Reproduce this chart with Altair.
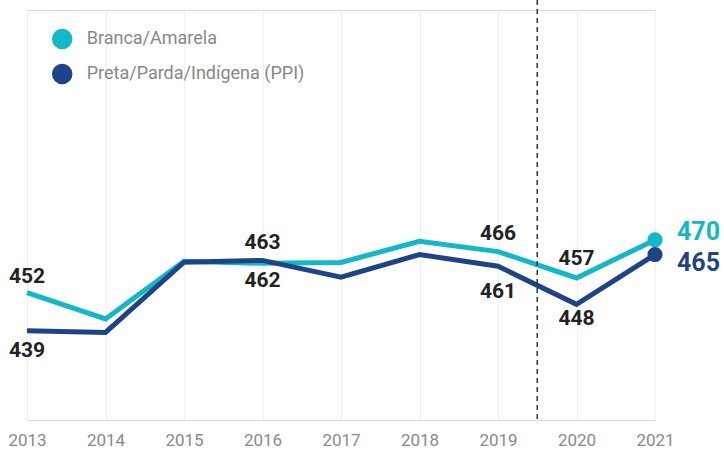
import altair as alt
import pandas as pd

years = [2013, 2014, 2015, 2016, 2017, 2018, 2019, 2020, 2021]
branca = [452, 443, 462.7, 462, 462.3, 469.5, 466, 457, 470]
ppi = [439, 438.4, 462.4, 463, 457.3, 465, 461, 448, 465]
series_names = ["Branca/Amarela", "Preta/Parda/Indígena (PPI)"]
series_colors = ["#12b7c8", "#1f4486"]
break_year = [2019.5]

rows = []
for name, vals in zip(series_names, [branca, ppi]):
    for y, v in zip(years, vals):
        rows.append({"year": y, "value": v, "series": name, "label": str(int(round(v)))})
df = pd.DataFrame(rows)

B, P = series_names
# labelled points and vertical offset of their label (style)
label_specs = [
    (B, 2013, -16), (P, 2013, 20),
    (P, 2016, -17), (B, 2016, 18),
    (B, 2019, -18), (P, 2019, 26),
    (B, 2020, -19), (P, 2020, 15),
]

FONT = "Roboto"
x_enc = alt.X("year:Q", scale=alt.Scale(domain=[2013, 2021], nice=False, zero=False),
              axis=alt.Axis(values=years, format="d", title=None, grid=True,
                            ticks=False, tickSize=0, domain=False, labelPadding=12,
                            labelFlush=False, labelOverlap=False,
                            labelFontSize=17, labelColor="#8a8a8a", labelFont=FONT,
                            gridColor="#eeeeee", gridWidth=1))
y_enc = alt.Y("value:Q", scale=alt.Scale(domain=[408.5, 548.5], nice=False, zero=False),
              axis=None)
color_scale = alt.Scale(domain=series_names, range=series_colors)
legend = alt.Legend(title=None, orient="none", legendX=24.7, legendY=18.5,
                    symbolType="circle", symbolSize=420, symbolStrokeWidth=0,
                    symbolOpacity=1, labelLimit=400,
                    labelFontSize=18, labelColor="#888888", labelFont=FONT,
                    rowPadding=14, labelOffset=14, padding=0)
color_enc = alt.Color("series:N", scale=color_scale, sort=series_names, legend=legend)

base = alt.Chart(df)

lines = base.mark_line(strokeWidth=5).encode(
    x=x_enc, y=y_enc, color=color_enc, detail="series:N",
)

points = base.transform_filter(alt.datum.year == 2021).mark_circle(size=230, opacity=1).encode(
    x=x_enc, y=y_enc, color=color_enc,
)

rule = alt.Chart(pd.DataFrame({"x": break_year})).mark_rule(
    color="#333333", strokeDash=[5, 4], strokeWidth=1.5
).encode(
    x=alt.X("x:Q"), y=alt.value(-10), y2=alt.value(410)
)

label_layers = []
for s, yr, dy in label_specs:
    label_layers.append(
        base.transform_filter((alt.datum.series == s) & (alt.datum.year == yr))
        .mark_text(fontSize=21, fontWeight="bold", font=FONT, color="#222222",
                   align="center", baseline="middle", dy=dy)
        .encode(x=alt.X("year:Q"), y=alt.Y("value:Q"), text="label:N")
    )

end_layers = []
for s, col, dy in [(B, series_colors[0], -8), (P, series_colors[1], 8)]:
    end_layers.append(
        base.transform_filter((alt.datum.series == s) & (alt.datum.year == 2021))
        .mark_text(fontSize=25, fontWeight="bold", font=FONT, color=col,
                   align="left", baseline="middle", dx=22, dy=dy)
        .encode(x=alt.X("year:Q"), y=alt.Y("value:Q"), text="label:N")
    )

chart = alt.layer(lines, rule, points, *label_layers, *end_layers).properties(
    width=628, height=410,
    autosize=alt.AutoSizeParams(type="none"),
    padding={"left": 27, "top": 10, "right": 69, "bottom": 31},
).configure_view(stroke="#eeeeee", strokeWidth=1).configure(background="white")

chart.save("out.html", embed_options={"renderer": "svg", "actions": False})
